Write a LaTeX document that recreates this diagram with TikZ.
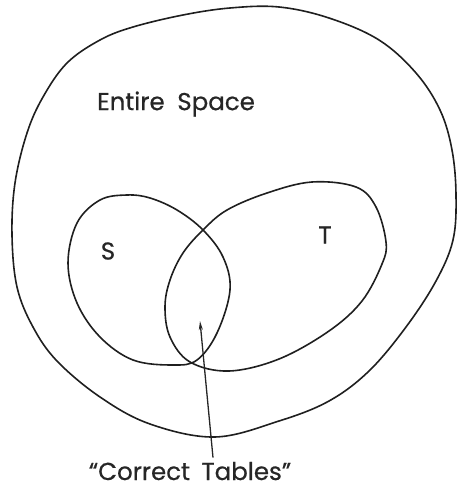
\documentclass[tikz,border=0pt]{standalone}
\usepackage{fontspec}
\setmainfont{Poppins}[FakeBold=0.6]
\usetikzlibrary{arrows.meta,calc}
\tikzset{
  curve/.style={line width=1.6pt, draw=black!88, line join=round},
  lbl/.style={inner sep=0pt, text=black!85, font=\fontsize{24.5}{28}\selectfont},
  pointer/.style={line width=1.3pt, draw=black!85, -{Stealth[length=9pt,width=4pt]}}
}
\begin{document}
\begin{tikzpicture}[x=1pt,y=-1pt]
\useasboundingbox (0,0) rectangle (459,489);
% entire space
\draw[curve] plot[smooth cycle, tension=0.6] coordinates {
 (12,235) (15,183) (27,133) (43,97) (67,63) (100,40) (133,27) (183,15) (230,8)
 (279,7) (329,18) (379,40) (416,73) (440,110) (452,150) (456,195) (453,240)
 (436,281) (406,327) (369,371) (329,401) (279,421) (215,437)
 (150,424) (100,397) (57,361) (33,327) (17,287)};
% S
\draw[curve] plot[smooth cycle, tension=0.6] coordinates {
 (127,195) (150,198) (177,210) (203,230) (223,257) (230,290) (217,333)
 (197,360) (173,365) (133,360) (100,337) (77,303) (68,263) (77,223) (100,200)};
% T
\draw[curve] plot[smooth cycle, tension=0.6] coordinates {
 (267,193) (312,182) (356,187) (376,207) (386,242) (382,264) (362,301)
 (329,331) (279,359) (229,371) (190,362) (170,337) (165,307) (170,280)
 (183,253) (203,230) (227,210)};
\node[lbl] (space) at (176,104) {Entire\hspace{0.25em} Space};
\node[lbl] (s) at (108,251) {S};
\node[lbl] (t) at (325,235) {T};
\node[lbl, anchor=base] (ct) at (190,480) {“Correct\hspace{0.2em} Tables”};
\coordinate (tip) at (200,321);
\draw[pointer] ($(ct.north)+(23,-4)$) -- (tip);
\end{tikzpicture}
\end{document}
